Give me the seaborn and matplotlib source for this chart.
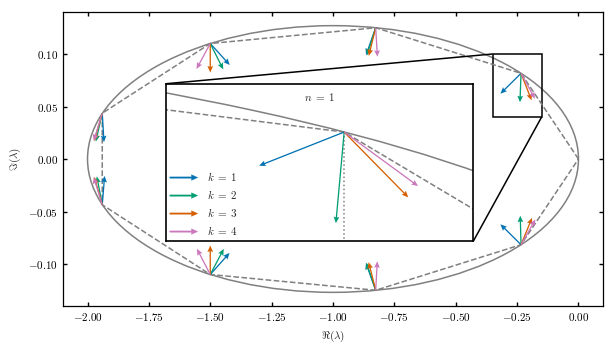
import numpy as np
import matplotlib
matplotlib.use('Agg')
import matplotlib.pyplot as plt
import matplotlib.patches as mpatches
from matplotlib.legend_handler import HandlerPatch
from matplotlib.ticker import MultipleLocator, FuncFormatter
from mpl_toolkits.axes_grid1.inset_locator import mark_inset
import seaborn as sns

# eigenvalues on the ellipse (upper half then lower half, j = 0..8)
vert_x = [0.0, -0.234, -0.826, -1.500, -1.940, -1.940, -1.500, -0.826, -0.234]
vert_y = [0.0, 0.0816, 0.1250, 0.1100, 0.0436, -0.0436, -0.1100, -0.1250, -0.0816]

# ellipse the eigenvalues lie on
ellipse_center = (-1.0, 0.0)
ellipse_a = 1.0
ellipse_b = 0.127

# arrow directions (data units) at vertices j = 1..8, one list per k
k1_u = [-0.0553, -0.0388, 0.0787, 0.0069, 0.0094, 0.0787, -0.0388, -0.0553]
k1_v = [-0.0128, -0.0256, -0.0203, -0.0269, 0.0269, 0.0206, 0.0253, 0.0128]
k2_u = [-0.0054, -0.0347, 0.0489, -0.0245, -0.0220, 0.0514, -0.0367, -0.0040]
k2_v = [-0.0346, -0.0256, -0.0228, -0.0253, 0.0269, 0.0228, 0.0253, 0.0346]
k3_u = [0.0418, -0.0261, 0.0, -0.0330, -0.0330, 0.0, -0.0273, 0.0440]
k3_v = [-0.0249, -0.0247, -0.0279, -0.0266, 0.0269, 0.0278, 0.0253, 0.0250]
k4_u = [0.0484, 0.0065, -0.0547, -0.0355, -0.0355, -0.0547, 0.0065, 0.0500]
k4_v = [-0.0207, -0.0263, -0.0237, -0.0269, 0.0269, 0.0247, 0.0275, 0.0205]

k_labels = [r'$k\;=\;1$', r'$k\;=\;2$', r'$k\;=\;3$', r'$k\;=\;4$']

sns.set_theme(style='ticks', context='paper')
plt.rcParams.update({
    'mathtext.fontset': 'cm',
    'font.family': ['DejaVu Serif'],
    'xtick.direction': 'in',
    'ytick.direction': 'in',
    'xtick.top': True,
    'ytick.right': True,
    'xtick.major.size': 3,
    'ytick.major.size': 3,
    'xtick.labelsize': 8,
    'ytick.labelsize': 8,
    'axes.labelsize': 8,
    'axes.edgecolor': 'black',
    'axes.linewidth': 0.9,
    'xtick.color': 'black',
    'ytick.color': 'black',
})

pal = sns.color_palette('colorblind')
colors = [pal[0], pal[2], pal[3], pal[4]]
arrows = [(k1_u, k1_v), (k2_u, k2_v), (k3_u, k3_v), (k4_u, k4_v)]


def draw(ax, arrow_len):
    ax.add_patch(mpatches.Ellipse(ellipse_center, 2 * ellipse_a, 2 * ellipse_b,
                                  fill=False, ec='gray', lw=1.1, zorder=1))
    px = vert_x + vert_x[:1]
    py = vert_y + vert_y[:1]
    sns.lineplot(x=px, y=py, sort=False, estimator=None, color='gray',
                 linestyle='--', lw=1.1, ax=ax, zorder=2)
    for (u, v), col in zip(arrows, colors):
        u = np.array(u)
        v = np.array(v)
        m = np.hypot(u, v)
        ax.quiver(vert_x[1:], vert_y[1:], u / m, v / m, color=col, angles='xy',
                  scale_units='inches', scale=1 / arrow_len, units='inches',
                  width=0.013, headwidth=4.4, headlength=5, headaxislength=4.4,
                  zorder=3)


fig = plt.figure(figsize=(6.15, 3.5), dpi=100)
ax = fig.add_axes([0.1024, 0.1257, 0.8781, 0.84])
draw(ax, 0.29)
ax.set_xlim(-2.1, 0.1)
ax.set_ylim(-0.14, 0.14)
ax.xaxis.set_major_locator(MultipleLocator(0.25))
ax.yaxis.set_major_locator(MultipleLocator(0.05))
fmt = FuncFormatter(lambda val, pos: f'${round(val, 2) + 0.0:.2f}$')
ax.xaxis.set_major_formatter(fmt)
ax.yaxis.set_major_formatter(fmt)
ax.set_xlabel(r'$\Re(\lambda)$')
ax.set_ylabel(r'$\Im(\lambda)$')

# zoomed inset around j = 1
axins = ax.inset_axes([0.1907, 0.220, 0.569, 0.536])
draw(axins, 0.915)
axins.plot([vert_x[1], vert_x[1]], [vert_y[1], 0.0], color='gray', ls=':', lw=1.1, zorder=2)
axins.set_xlim(-0.35, -0.15)
axins.set_ylim(0.04, 0.10)
axins.set_xticks([])
axins.set_yticks([])
axins.tick_params(top=False, right=False)
for s in axins.spines.values():
    s.set_linewidth(1.2)
axins.text(0.5, 0.915, r'$n\;=\;1$', transform=axins.transAxes, ha='center', va='center', fontsize=8)
mark_inset(ax, axins, loc1=2, loc2=4, fc='none', ec='black', lw=1.1)


def make_arrow(legend, orig_handle, xdescent, ydescent, width, height, fontsize):
    return mpatches.FancyArrow(-xdescent, 0.5 * height - ydescent, width, 0,
                               width=0.9, head_width=4.0, head_length=4.4,
                               length_includes_head=True)


handles = [mpatches.Patch(facecolor=c, edgecolor=c, lw=0.3) for c in colors]
axins.legend(handles, k_labels, loc='lower left', frameon=False, fontsize=8,
             handlelength=2.5, handletextpad=0.8, labelspacing=0.45,
             borderaxespad=0.15, borderpad=0.2,
             handler_map={mpatches.Patch: HandlerPatch(patch_func=make_arrow)})

fig.savefig('out.png', dpi=100)
